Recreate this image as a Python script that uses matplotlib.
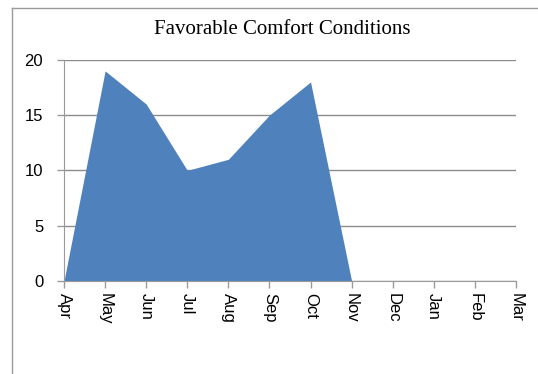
import matplotlib.pyplot as plt
from matplotlib.lines import Line2D

# monthly counts of favorable comfort days
months = ["Apr", "May", "Jun", "Jul", "Aug", "Sep", "Oct", "Nov", "Dec", "Jan", "Feb", "Mar"]
days = [0, 19, 16, 10, 11, 15, 18, 0, 0, 0, 0, 0]
yticks = [0, 5, 10, 15, 20]

fig = plt.figure(figsize=(5.38, 3.74), dpi=100)
ax = fig.add_axes([0.119, 0.249, 0.840, 0.591])

x = range(len(months))
ax.fill_between(x, days, 0, color="#4F81BD", linewidth=0, zorder=2)

ax.set_xlim(0, len(months) - 1)
ax.set_ylim(0, 20)
ax.set_yticks(yticks)
ax.set_xticks(list(x))
ax.set_xticklabels(months, rotation=270, fontsize=12, family="Liberation Sans")
ax.set_yticklabels([str(v) for v in yticks], fontsize=12, family="Liberation Sans")

ax.grid(axis="y", color="#8c8c8c", linewidth=1, zorder=1)
ax.set_axisbelow(True)
for side in ["top", "right"]:
    ax.spines[side].set_visible(False)
for side in ["left", "bottom"]:
    ax.spines[side].set_color("#9a9a9a")
    ax.spines[side].set_zorder(3)
ax.tick_params(axis="both", color="#9a9a9a", length=5, width=1)
ax.tick_params(axis="y", pad=10)
ax.tick_params(axis="x", pad=4)

fig.text(0.524, 0.92, "Favorable Comfort Conditions", ha="center", va="center",
         fontsize=15, family="Liberation Serif")

# chart frame (left and top edges)
fig.add_artist(Line2D([12 / 538, 12 / 538], [0, 1 - 8 / 374], transform=fig.transFigure,
                      color="#9a9a9a", linewidth=1))
fig.add_artist(Line2D([12 / 538, 1], [1 - 8 / 374, 1 - 8 / 374], transform=fig.transFigure,
                      color="#9a9a9a", linewidth=1))

fig.savefig("out.png", dpi=100)
